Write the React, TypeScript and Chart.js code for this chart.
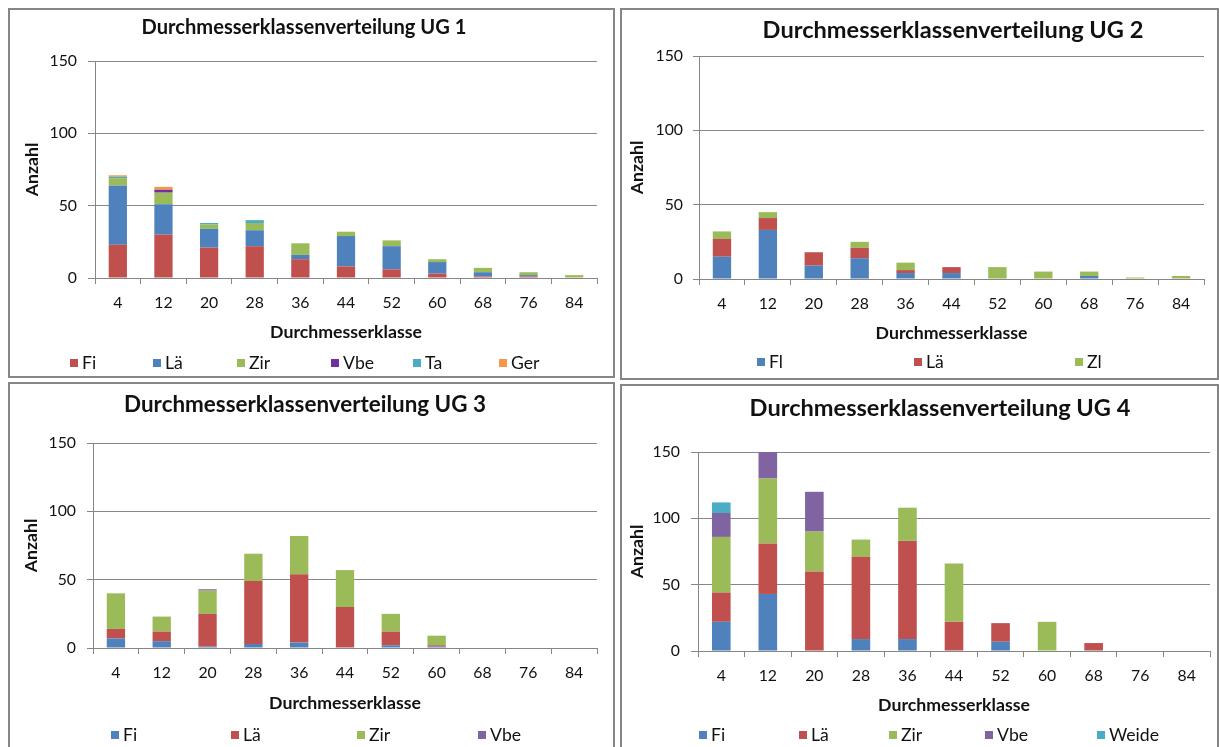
import React, { useEffect, useRef } from 'react';
import { Chart, registerables } from 'chart.js';

Chart.register(...registerables);

// ---------- data ----------
const categories = ['4', '12', '20', '28', '36', '44', '52', '60', '68', '76', '84'];
const yTickValues = [0, 50, 100, 150];

const ug1Fi = [23, 30, 21, 22, 13, 8, 6, 3, 1, 1, 0];
const ug1La = [41, 21, 13, 11, 3, 21, 16, 8, 3, 1, 0];
const ug1Zir = [5, 8, 3, 5, 8, 3, 4, 2, 3, 2, 2];
const ug1Vbe = [0, 2, 0, 0, 0, 0, 0, 0, 0, 0, 0];
const ug1Ta = [1, 0, 1, 2, 0, 0, 0, 0, 0, 0, 0];
const ug1Ger = [1, 2, 0, 0, 0, 0, 0, 0, 0, 0, 0];

const ug2Fl = [15, 33, 9, 14, 4, 4, 0, 0, 2, 0, 0];
const ug2La = [12, 8, 9, 7, 2, 4, 0, 0, 0, 0, 0];
const ug2Zl = [5, 4, 0, 4, 5, 0, 8, 5, 3, 1, 2];

const ug3Fi = [7, 5, 1, 3, 4, 0, 2, 1, 0, 0, 0];
const ug3La = [7, 7, 24, 46, 50, 30, 10, 1, 0, 0, 0];
const ug3Zir = [26, 11, 17, 20, 28, 27, 13, 7, 0, 0, 0];
const ug3Vbe = [0, 0, 1, 0, 0, 0, 0, 0, 0, 0, 0];

const ug4Fi = [22, 43, 0, 9, 9, 0, 7, 0, 0, 0, 0];
const ug4La = [22, 38, 60, 62, 74, 22, 14, 0, 6, 0, 0];
const ug4Zir = [42, 49, 30, 13, 25, 44, 0, 22, 0, 0, 0];
const ug4Vbe = [18, 20, 30, 0, 0, 0, 0, 0, 0, 0, 0];
const ug4Weide = [8, 0, 0, 0, 0, 0, 0, 0, 0, 0, 0];

// ---------- style ----------
const FAMILY = 'Lato, "Open Sans", sans-serif';
const COL = {
  blue: '#4F81BD',
  red: '#C0504D',
  green: '#9BBB59',
  purple: '#8064A2',
  darkPurple: '#7030A0',
  aqua: '#4BACC6',
  orange: '#F79646',
};
const GRID = '#868686';
const TEXT = '#111111';

type Series = { label: string; data: number[]; color: string };
type PanelSpec = {
  id: string;
  title: string;
  series: Series[];
  x: number; y: number; w: number; h: number;
  plot: { l: number; r: number; t: number; b: number };
  titleCx: number; titleW: number; titleY: number;
  yTitleX: number; yTickRight: number; tickLen: number;
  xTickY: number; xTitleY: number;
  legendY: number; legendXs: number[];
};

const panels: PanelSpec[] = [
  {
    id: 'ug1',
    title: 'Durchmesserklassenverteilung UG 1',
    series: [
      { label: 'Fi', data: ug1Fi, color: COL.red },
      { label: 'Lä', data: ug1La, color: COL.blue },
      { label: 'Zir', data: ug1Zir, color: COL.green },
      { label: 'Vbe', data: ug1Vbe, color: COL.darkPurple },
      { label: 'Ta', data: ug1Ta, color: COL.aqua },
      { label: 'Ger', data: ug1Ger, color: COL.orange },
    ],
    x: 10, y: 10, w: 603, h: 366,
    plot: { l: 85, r: 587, t: 51, b: 268 },
    titleCx: 294, titleW: 325, titleY: 18,
    yTitleX: 22, yTickRight: 67, tickLen: 7,
    xTickY: 293, xTitleY: 322,
    legendY: 353, legendXs: [60, 143, 227, 321, 403, 489],
  },
  {
    id: 'ug2',
    title: 'Durchmesserklassenverteilung UG 2',
    series: [
      { label: 'Fl', data: ug2Fl, color: COL.blue },
      { label: 'Lä', data: ug2La, color: COL.red },
      { label: 'Zl', data: ug2Zl, color: COL.green },
    ],
    x: 622, y: 10, w: 595, h: 368,
    plot: { l: 77, r: 582, t: 46, b: 269 },
    titleCx: 331, titleW: 381, titleY: 20,
    yTitleX: 15, yTickRight: 61, tickLen: 6,
    xTickY: 294, xTitleY: 323,
    legendY: 352, legendXs: [135, 292, 453],
  },
  {
    id: 'ug3',
    title: 'Durchmesserklassenverteilung UG 3',
    series: [
      { label: 'Fi', data: ug3Fi, color: COL.blue },
      { label: 'Lä', data: ug3La, color: COL.red },
      { label: 'Zir', data: ug3Zir, color: COL.green },
      { label: 'Vbe', data: ug3Vbe, color: COL.purple },
    ],
    x: 10, y: 384, w: 603, h: 372,
    plot: { l: 83, r: 587, t: 59, b: 264 },
    titleCx: 295, titleW: 362, titleY: 21,
    yTitleX: 21, yTickRight: 66, tickLen: 6,
    xTickY: 289, xTitleY: 319,
    legendY: 351, legendXs: [101, 221, 347, 468],
  },
  {
    id: 'ug4',
    title: 'Durchmesserklassenverteilung UG 4',
    series: [
      { label: 'Fi', data: ug4Fi, color: COL.blue },
      { label: 'Lä', data: ug4La, color: COL.red },
      { label: 'Zir', data: ug4Zir, color: COL.green },
      { label: 'Vbe', data: ug4Vbe, color: COL.purple },
      { label: 'Weide', data: ug4Weide, color: COL.aqua },
    ],
    x: 622, y: 386, w: 595, h: 370,
    plot: { l: 76, r: 588, t: 66, b: 265 },
    titleCx: 318, titleW: 381, titleY: 22,
    yTitleX: 15, yTickRight: 58, tickLen: 7,
    xTickY: 290, xTitleY: 319,
    legendY: 349, legendXs: [77, 177, 267, 363, 475],
  },
];

function fitSize(text: string, weight: string, target: number): number {
  const c = document.createElement('canvas').getContext('2d');
  if (!c) return 16;
  c.font = `${weight} 100px ${FAMILY}`;
  const w = c.measureText(text).width || 1;
  return (100 * target) / w;
}

function buildConfig(spec: PanelSpec): any {
  const LH = 1.2;
  const tickSize = fitSize('150', 'normal', 27.5);
  const legendSize = fitSize('Weide', 'normal', 50);
  const axisTitleSize = fitSize('Durchmesserklasse', 'bold', 152);
  const titleSize = fitSize(spec.title, 'bold', spec.titleW);

  const tLH = titleSize * LH;
  const titlePadTop = spec.titleY - tLH / 2;
  const titlePadBottom = spec.plot.t - titlePadTop - tLH;
  const aLH = axisTitleSize * LH;
  const kLH = tickSize * LH;
  const yTitlePadTop = spec.yTitleX - aLH / 2;
  const yTickPad = spec.plot.l - spec.tickLen - spec.yTickRight;
  const xTickLen = 6;
  const xTickPad = spec.xTickY - spec.plot.b - xTickLen - kLH / 2;
  const xHeight = spec.xTitleY + aLH / 2 - spec.plot.b;
  const padBottom = spec.h - spec.plot.b - xHeight;
  const padRight = spec.w - spec.plot.r;

  const titleShift = {
    id: 'titleShift_' + spec.id,
    afterLayout(chart: any) {
      const t = chart.titleBlock;
      if (!t) return;
      const dx = spec.titleCx - (t.left + t.right) / 2;
      t.left += dx;
      t.right += dx;
    },
  };

  const legendDraw = {
    id: 'excelLegend_' + spec.id,
    afterDraw(chart: any) {
      const ctx = chart.ctx as CanvasRenderingContext2D;
      ctx.save();
      ctx.font = `normal ${legendSize}px ${FAMILY}`;
      ctx.textBaseline = 'middle';
      ctx.textAlign = 'left';
      chart.data.datasets.forEach((ds: any, i: number) => {
        const x = spec.legendXs[i];
        ctx.fillStyle = ds.backgroundColor;
        ctx.fillRect(x, spec.legendY - 4, 8, 8);
        ctx.fillStyle = TEXT;
        ctx.fillText(ds.label, x + 12, spec.legendY + 0.5);
      });
      ctx.restore();
    },
  };

  return {
    type: 'bar',
    data: {
      labels: categories,
      datasets: spec.series.map((s) => ({
        label: s.label,
        data: s.data,
        backgroundColor: s.color,
        borderWidth: 0,
        barPercentage: 0.4,
        categoryPercentage: 1,
      })),
    },
    options: {
      animation: false,
      responsive: false,
      maintainAspectRatio: false,
      layout: { padding: { left: 0, top: 0, right: padRight, bottom: padBottom } },
      plugins: {
        legend: { display: false },
        tooltip: { enabled: false },
        title: {
          display: true,
          text: spec.title,
          color: TEXT,
          font: { family: FAMILY, size: titleSize, weight: 'bold', lineHeight: LH },
          padding: { top: titlePadTop, bottom: titlePadBottom },
          fullSize: true,
        },
      },
      scales: {
        x: {
          stacked: true,
          grid: {
            offset: true,
            drawOnChartArea: false,
            drawTicks: true,
            tickLength: xTickLen,
            color: GRID,
          },
          border: { display: true, color: GRID },
          ticks: {
            color: TEXT,
            padding: xTickPad,
            autoSkip: false,
            maxRotation: 0,
            font: { family: FAMILY, size: tickSize, lineHeight: LH },
          },
          title: {
            display: true,
            text: 'Durchmesserklasse',
            color: TEXT,
            font: { family: FAMILY, size: axisTitleSize, weight: 'bold', lineHeight: LH },
            padding: { top: 0, bottom: 0 },
          },
          afterFit: (s: any) => {
            s.height = xHeight;
          },
        },
        y: {
          stacked: true,
          min: yTickValues[0],
          max: yTickValues[yTickValues.length - 1],
          afterBuildTicks: (s: any) => {
            s.ticks = yTickValues.map((v) => ({ value: v }));
          },
          grid: { color: GRID, drawTicks: true, tickLength: spec.tickLen },
          border: { display: true, color: GRID },
          ticks: {
            color: TEXT,
            padding: yTickPad,
            font: { family: FAMILY, size: tickSize, lineHeight: LH },
          },
          title: {
            display: true,
            text: 'Anzahl',
            color: TEXT,
            font: { family: FAMILY, size: axisTitleSize, weight: 'bold', lineHeight: LH },
            padding: { top: yTitlePadTop, bottom: 0 },
          },
          afterFit: (s: any) => {
            s.width = spec.plot.l;
          },
        },
      },
    },
    plugins: [titleShift, legendDraw],
  };
}

function Panel({ spec }: { spec: PanelSpec }) {
  const ref = useRef<HTMLCanvasElement>(null);
  useEffect(() => {
    const canvas = ref.current;
    if (!canvas) return;
    const chart = new Chart(canvas, buildConfig(spec));
    return () => chart.destroy();
  }, [spec]);
  return (
    <div
      style={{
        position: 'absolute',
        left: spec.x - 2,
        top: spec.y - 2,
        width: spec.w,
        height: spec.h,
        border: `2px solid ${GRID}`,
        background: '#fff',
      }}
    >
      <canvas
        ref={ref}
        width={spec.w}
        height={spec.h}
        style={{ display: 'block', width: spec.w, height: spec.h }}
      />
    </div>
  );
}

export default function App() {
  return (
    <div style={{ position: 'fixed', inset: 0, overflow: 'hidden', background: '#fff' }}>
      {panels.map((p) => (
        <Panel key={p.id} spec={p} />
      ))}
    </div>
  );
}
